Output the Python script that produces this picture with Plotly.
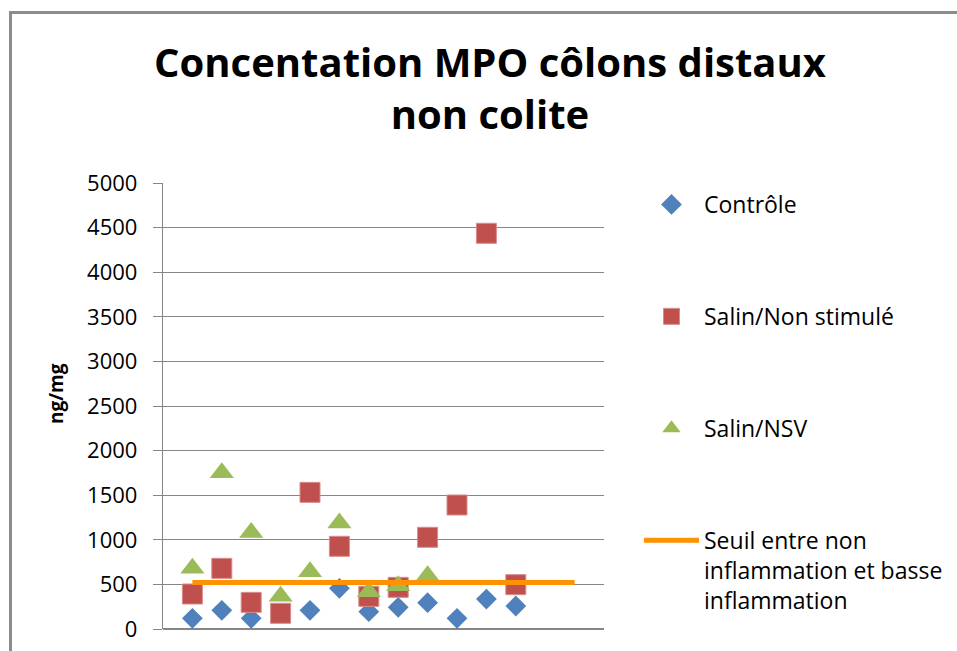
import plotly.graph_objects as go

# Sample index (Excel-style scatter: points plotted at 1..n)
samples = list(range(1, 13))

# MPO concentration, ng/mg
controle = [120, 209, 120, None, 209, 456, 194, 243, 295, 120, 336, 258]
salin_non_stimule = [392, 680, 299, 176, 1532, 927, 366, 467, 1028, 1390, 4436, 497]
salin_nsv = [680, 1751, 1082, 366, 643, 1188, 418, 486, 598]

# Threshold between no inflammation and low inflammation
seuil_x = [1, 14]
seuil_y = [520, 520]

y_ticks = [0, 500, 1000, 1500, 2000, 2500, 3000, 3500, 4000, 4500, 5000]

FONT = "Open Sans, Noto Sans, Arial, sans-serif"
GRID = "#868686"

W, H = 957, 651
L, R, T, B = 163, 353, 183, 22
pw, ph = W - L - R, H - T - B


def px_x(p):
    return (p - L) / pw


def px_y(p):
    return (H - B - p) / ph


fig = go.Figure()

fig.add_trace(go.Scatter(
    x=samples, y=controle, mode="markers", name="Contrôle",
    legendgroup="a",
    marker=dict(symbol="diamond", size=16, color="#4F81BD",
                line=dict(width=0)),
))
fig.add_trace(go.Scatter(
    x=samples, y=salin_non_stimule, mode="markers", name="Salin/Non stimulé",
    legendgroup="b",
    marker=dict(symbol="square", size=20, color="#C0504D",
                line=dict(width=1, color="#D88C8A")),
))
fig.add_trace(go.Scatter(
    x=samples[:len(salin_nsv)], y=salin_nsv, mode="markers", name="Salin/NSV",
    legendgroup="c",
    marker=dict(symbol="triangle-up", size=21, color="#9BBB59",
                line=dict(width=0)),
))
fig.add_trace(go.Scatter(
    x=seuil_x, y=seuil_y, mode="lines",
    name="Seuil entre non<br>inflammation et basse<br>inflammation",
    legendgroup="d",
    line=dict(color="#FF9200", width=5),
))

# outer chart frame (left and top edges)
frame = dict(color="#8C8C8C", width=3)
fig.add_shape(type="line", xref="paper", yref="paper",
              x0=px_x(10.5), x1=px_x(10.5), y0=px_y(660), y1=px_y(12.5),
              line=frame)
fig.add_shape(type="line", xref="paper", yref="paper",
              x0=px_x(9), x1=px_x(970), y0=px_y(12.5), y1=px_y(12.5),
              line=frame)

fig.add_annotation(
    text="<b>ng/mg</b>", textangle=-90, showarrow=False,
    xref="paper", yref="paper", x=px_x(56), y=px_y(394),
    xanchor="center", yanchor="middle",
    font=dict(family=FONT, size=19, color="#000000"),
)

fig.update_layout(
    width=W, height=H,
    margin=dict(l=L, r=R, t=T, b=B, pad=0, autoexpand=False),
    paper_bgcolor="white", plot_bgcolor="white",
    font=dict(family=FONT, color="#000000"),
    title=dict(
        text="<b>Concentation MPO côlons distaux<br>non colite</b>",
        x=490 / W, xanchor="center", xref="container",
        y=1 - 77 / H, yanchor="top", yref="container",
        font=dict(family=FONT, size=40, color="#000000"),
    ),
    xaxis=dict(
        range=[0, 15], showgrid=False, zeroline=False,
        showticklabels=False, ticks="", showline=False,
        fixedrange=True,
    ),
    yaxis=dict(
        range=[0, 5000], tickvals=y_ticks,
        ticktext=[str(v) for v in y_ticks],
        showgrid=True, gridcolor=GRID, gridwidth=1.3,
        zeroline=True, zerolinecolor=GRID, zerolinewidth=1.5,
        showline=True, linecolor=GRID, linewidth=1.3,
        ticks="outside", ticklen=9, tickcolor=GRID, tickwidth=1.3,
        tickfont=dict(family=FONT, size=22, color="#000000"),
        ticklabelstandoff=11,
        fixedrange=True,
    ),
    showlegend=True,
    legend=dict(
        x=px_x(639), y=px_y(183), xanchor="left", yanchor="top",
        xref="paper", yref="paper",
        font=dict(family=FONT, size=23, color="#000000"),
        tracegroupgap=79, itemwidth=55, valign="top",
        bgcolor="rgba(0,0,0,0)",
    ),
)

fig.write_html("out.html")
